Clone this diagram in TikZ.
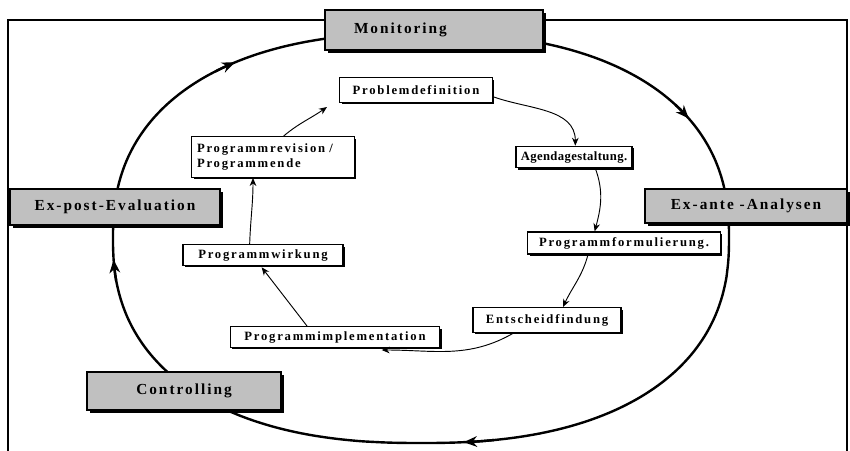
\documentclass[tikz,border=0pt]{standalone}
\usepackage{fontspec}
\setmainfont{Liberation Serif}
\newfontfamily\outerfont[LetterSpace=13.0]{Liberation Serif}
\newfontfamily\innerfont[LetterSpace=14.0]{Liberation Serif}
\newfontfamily\tightfont[LetterSpace=3.0]{Liberation Serif}
\usetikzlibrary{arrows.meta,shadows}
\definecolor{boxgray}{RGB}{192,192,192}
\tikzset{
  outerbox/.style={draw=black, line width=1.5pt, fill=boxgray, rectangle,
    inner sep=0pt, font=\outerfont\bfseries\fontsize{11.5}{13}\selectfont,
    drop shadow={shadow xshift=2.2pt, shadow yshift=-2.2pt, fill=black, opacity=1}},
  innerbox/.style={draw=black, line width=1pt, fill=white, rectangle,
    inner sep=0pt, align=center, font=\innerfont\bfseries\fontsize{9.5}{11}\selectfont,
    drop shadow={shadow xshift=1.5pt, shadow yshift=-1.5pt, fill=black, opacity=1}},
  cyc/.style={line width=1.8pt, black},
  cycarrow/.style={line width=1.8pt, black, -{Stealth[length=10pt,width=8pt]}},
  inarrow/.style={line width=0.7pt, black, -{Stealth[length=6pt,width=5pt]}},
}
\begin{document}
\begin{tikzpicture}[x=0.75pt,y=-0.75pt]
\useasboundingbox (0,0) rectangle (850,450);
\fill[white] (0,0) rectangle (850,450);
% frame
\draw[line width=0.8pt] (8,20) rectangle (847,470);
% outer cycle
\draw[cyc] plot[domain=0.5:360.5, samples=241, smooth]
  ({421+308*sign(cos(\x))*abs(cos(\x))^0.85},{238+205*sign(sin(\x))*abs(sin(\x))^0.85});
\foreach \t in {328,84.4,176,236.5}{
  \draw[cycarrow] plot[domain=\t-5:\t, samples=4]
  ({421+308*sign(cos(\x))*abs(cos(\x))^0.85},{238+205*sign(sin(\x))*abs(sin(\x))^0.85});
}
% outer boxes
\node[outerbox, minimum width=163pt, minimum height=29.5pt, text width=120pt, align=left] (mon) at (434,30) {Monitoring};
\node[outerbox, minimum width=157pt, minimum height=27.5pt] (post) at (115,207) {Ex-post-Evaluation};
\node[outerbox, minimum width=152pt, minimum height=26pt] (ante) at (746,206) {Ex-ante -Analysen};
\node[outerbox, minimum width=145pt, minimum height=28pt] (ctrl) at (184,391) {Controlling};
% inner boxes
\node[innerbox, minimum width=114.5pt, minimum height=18.5pt] (prob) at (416,90) {Problemdefinition};
\node[innerbox, minimum width=87pt, minimum height=16pt, font=\tightfont\bfseries\fontsize{9.5}{11}\selectfont] (agenda) at (574,157) {Agendagestaltung.};
\node[innerbox, minimum width=144.5pt, minimum height=16.5pt] (formul) at (624,243) {Programmformulierung.};
\node[innerbox, minimum width=111pt, minimum height=18.5pt] (entsch) at (547,320) {Entscheidfindung};
\node[innerbox, minimum width=157pt, minimum height=15.5pt] (impl) at (335,337) {Programmimplementation};
\node[innerbox, minimum width=120pt, minimum height=15.5pt] (wirk) at (263,255) {Programmwirkung};
\node[innerbox, minimum width=122pt, minimum height=30.5pt, align=left, text width=114pt] (rev) at (273,157) {Programmrevision /\\Programmende};
% inner connectors
\draw[inarrow] ([yshift=-5pt]prob.east) to[out=-20,in=90] ([xshift=1pt]agenda.north);
\draw[inarrow] ([xshift=16pt]agenda.south) to[out=-70,in=75] ([xshift=-22pt]formul.north);
\draw[inarrow] ([xshift=-27pt]formul.south) to[out=-105,in=65] ([xshift=12pt]entsch.north);
\draw[inarrow] ([xshift=-25pt]entsch.south) to[out=-150,in=0] ([xshift=-44pt,yshift=-1.5pt]impl.south east);
\draw[inarrow] ([xshift=-21pt]impl.north) -- ([xshift=-1pt,yshift=-1pt]wirk.south);
\draw[inarrow] ([xshift=-10pt]wirk.north) to[out=88,in=-90] ([xshift=-15pt]rev.south);
\draw[inarrow] ([xshift=8pt]rev.north) to[out=40,in=-145] ([xshift=-9pt,yshift=-3pt]prob.south west);
\end{tikzpicture}
\end{document}
